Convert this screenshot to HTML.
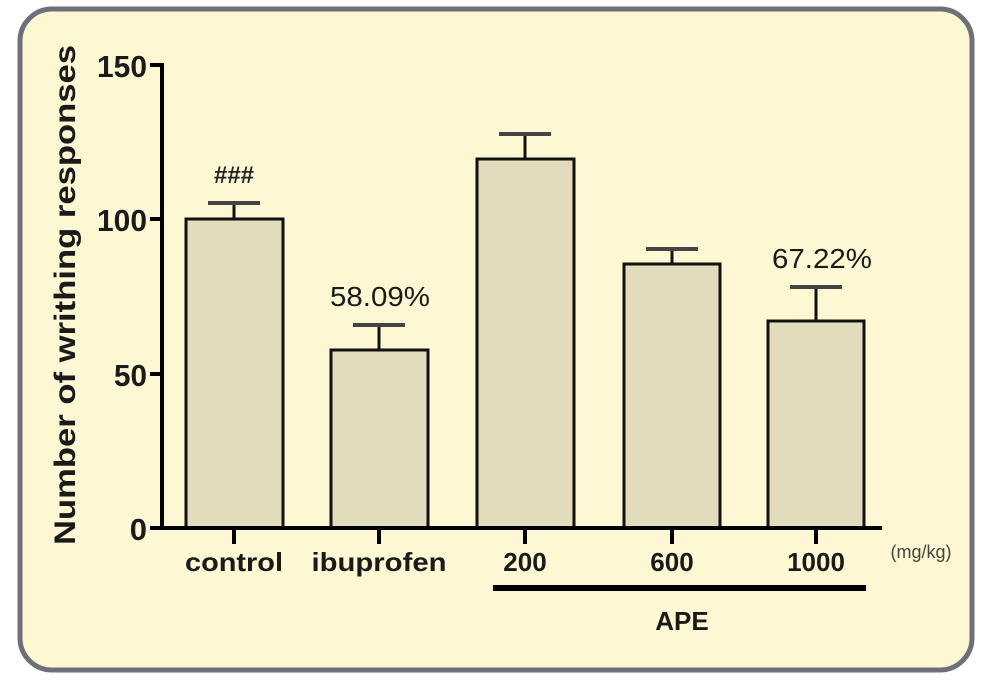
<!DOCTYPE html>
<html><head><style>
body{margin:0;background:#fff;}
svg{display:block}
text{font-family:"Liberation Sans",Arial,sans-serif;}
</style></head><body>
<svg width="1000" height="690" viewBox="0 0 1000 690">
<rect x="20" y="9" width="952" height="661" rx="32" fill="#fdf7d3" stroke="#6e6f78" stroke-width="5"/>
<g fill="#e2dcbd" stroke="#111" stroke-width="3">
<rect x="186" y="219" width="97" height="309"/>
<rect x="331" y="350" width="97" height="178"/>
<rect x="477" y="159" width="97" height="369"/>
<rect x="624" y="264" width="96" height="264"/>
<rect x="768" y="321" width="96" height="207"/>
</g>
<g stroke="#111" stroke-width="3">
<line x1="234" y1="219" x2="234" y2="203"/>
<line x1="379" y1="350" x2="379" y2="325"/>
<line x1="525" y1="159" x2="525" y2="134"/>
<line x1="672" y1="264" x2="672" y2="249"/>
<line x1="816" y1="321" x2="816" y2="287"/>
</g>
<g stroke="#444" stroke-width="4">
<line x1="208" y1="203" x2="260" y2="203"/>
<line x1="353" y1="325" x2="405" y2="325"/>
<line x1="499" y1="134" x2="551" y2="134"/>
<line x1="646" y1="249" x2="698" y2="249"/>
<line x1="790" y1="287" x2="842" y2="287"/>
</g>
<g stroke="#000" stroke-width="4" fill="none">
<polyline points="150,65 162,65 162,528 882,528"/>
<line x1="150" y1="219" x2="162" y2="219"/>
<line x1="150" y1="374" x2="162" y2="374"/>
<line x1="150" y1="528" x2="162" y2="528"/>
<line x1="234" y1="528" x2="234" y2="544"/>
<line x1="379" y1="528" x2="379" y2="544"/>
<line x1="525" y1="528" x2="525" y2="544"/>
<line x1="672" y1="528" x2="672" y2="544"/>
<line x1="816" y1="528" x2="816" y2="544"/>
</g>
<line x1="493" y1="588" x2="866" y2="588" stroke="#000" stroke-width="6"/>
<g font-size="31" font-weight="bold" fill="#1a1a1a" text-anchor="end">
<text x="147" y="77" textLength="50" lengthAdjust="spacingAndGlyphs">150</text>
<text x="147" y="231" textLength="50" lengthAdjust="spacingAndGlyphs">100</text>
<text x="147" y="386" textLength="33" lengthAdjust="spacingAndGlyphs">50</text>
<text x="147" y="540">0</text>
</g>
<text transform="translate(75,295) rotate(-90)" font-size="30" font-weight="bold" fill="#1a1a1a" text-anchor="middle" textLength="500" lengthAdjust="spacingAndGlyphs">Number of writhing responses</text>
<g font-size="26" font-weight="bold" fill="#1a1a1a" text-anchor="middle">
<text x="234" y="571" textLength="98" lengthAdjust="spacingAndGlyphs">control</text>
<text x="379" y="571" textLength="135" lengthAdjust="spacingAndGlyphs">ibuprofen</text>
<text x="525" y="571">200</text>
<text x="672" y="571">600</text>
<text x="816" y="571">1000</text>
<text x="682" y="630">APE</text>
</g>
<text x="234" y="183" font-size="24" font-weight="bold" fill="#222" text-anchor="middle">###</text>
<text x="380" y="306" font-size="28" fill="#1a1a1a" text-anchor="middle" textLength="100" lengthAdjust="spacingAndGlyphs">58.09%</text>
<text x="822" y="268" font-size="28" fill="#1a1a1a" text-anchor="middle" textLength="100" lengthAdjust="spacingAndGlyphs">67.22%</text>
<text x="921" y="558" font-size="18" fill="#444" text-anchor="middle">(mg/kg)</text>
</svg>
</body></html>
